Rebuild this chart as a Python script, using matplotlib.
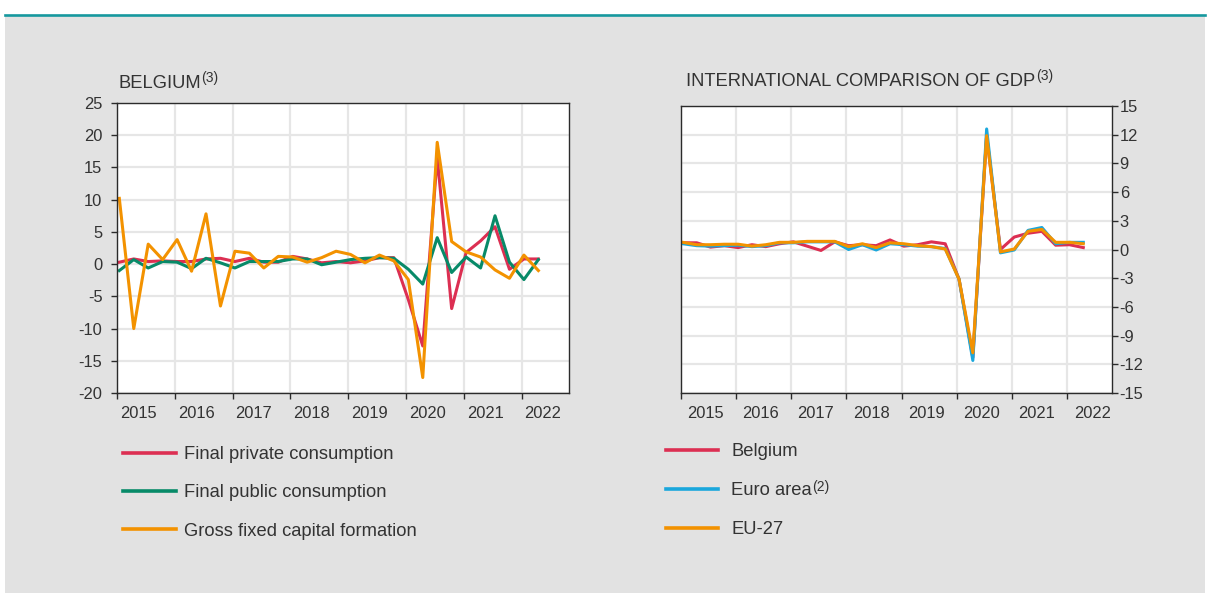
import matplotlib.pyplot as plt
import numpy as np
from matplotlib.patches import Rectangle
from matplotlib.lines import Line2D

plt.rcParams['font.family'] = ['Liberation Sans', 'DejaVu Sans']
plt.rcParams['axes.unicode_minus'] = False

# quarterly data, 2015 Q1 -> 2022 Q2
years = [2015, 2016, 2017, 2018, 2019, 2020, 2021, 2022]

# Belgium, components of GDP (q-o-q % change)
private_cons = [0.3, 0.8, 0.4, 0.5, 0.4, 0.4, 0.8, 0.9, 0.4, 0.9, 0.3, 0.3, 1.2, 0.8, 0.2,
                0.4, 0.2, 0.5, 1.0, 1.0, -5.5, -12.7, 16.6, -6.9, 1.8, 3.6, 5.8, -0.8, 0.8, 0.8]
public_cons = [-1.0, 0.7, -0.6, 0.4, 0.3, -0.7, 0.9, 0.2, -0.6, 0.4, 0.4, 0.4, 0.8, 0.8, -0.1,
               0.3, 0.7, 0.9, 1.0, 0.9, -0.8, -3.1, 4.1, -1.3, 1.1, -0.6, 7.5, 0.3, -2.4, 0.7]
gfcf = [10.2, -10.0, 3.1, 0.7, 3.8, -1.1, 7.8, -6.5, 2.0, 1.7, -0.6, 1.2, 1.1, 0.3, 1.0,
        2.0, 1.5, 0.2, 1.4, 0.5, -2.4, -17.6, 18.9, 3.5, 1.9, 1.1, -0.9, -2.2, 1.4, -1.0]

# international comparison of GDP
gdp_be = [0.7, 0.7, 0.25, 0.4, 0.2, 0.5, 0.3, 0.6, 0.8, 0.35, -0.1, 0.8, 0.4, 0.5, 0.4,
          1.0, 0.35, 0.5, 0.8, 0.6, -3.1, -11.3, 11.9, 0.0, 1.3, 1.7, 1.9, 0.45, 0.5, 0.2]
gdp_ea = [0.6, 0.4, 0.35, 0.4, 0.45, 0.3, 0.4, 0.7, 0.7, 0.8, 0.8, 0.8, 0.0, 0.5, -0.05,
          0.6, 0.5, 0.35, 0.3, 0.1, -3.1, -11.6, 12.6, -0.35, -0.05, 2.0, 2.3, 0.6, 0.75, 0.75]
gdp_eu = [0.75, 0.5, 0.5, 0.55, 0.55, 0.35, 0.5, 0.75, 0.75, 0.85, 0.85, 0.85, 0.3, 0.6, 0.2,
          0.7, 0.6, 0.4, 0.3, 0.05, -3.1, -10.8, 11.9, -0.25, 0.05, 1.9, 2.1, 0.75, 0.75, 0.6]

left_ticks = list(range(-20, 26, 5))
right_ticks = list(range(-15, 16, 3))

RED = '#dc2f52'
GREEN = '#078a68'
ORANGE = '#f39200'
BLUE = '#1aa7dc'
TXT = '#333333'
GRID = '#e6e6e6'

W, H = 1208, 595
fig = plt.figure(figsize=(W / 100, H / 100), dpi=100)
fig.patch.set_facecolor('white')

# grey panel + teal rule on top
fig.add_artist(Rectangle((5 / W, 1 - 593 / H), 1200 / W, 577 / H, transform=fig.transFigure,
                         facecolor='#e2e2e2', edgecolor='none', zorder=0))
fig.add_artist(Line2D([5 / W, 1205 / W], [1 - 15 / H, 1 - 15 / H], transform=fig.transFigure,
                      color='#16989e', lw=1.9, zorder=1))

n = len(private_cons)
t = 2015.04 + 0.25 * np.arange(n)


def style_axes(ax, yticks, lab_off, right=False):
    ax.set_facecolor('white')
    for s in ax.spines.values():
        s.set_color('#2b2b2b')
        s.set_linewidth(1.0)
    ax.set_yticks(yticks)
    ax.set_yticklabels([str(v) for v in yticks])
    ax.set_ylim(yticks[0], yticks[-1])
    ax.set_xticks(years)
    ax.set_xticklabels([])
    ax.set_xticks([y + lab_off for y in years], minor=True)
    ax.set_xticklabels([str(y) for y in years], minor=True)
    ax.tick_params(axis='x', which='minor', length=0, pad=9.5, labelsize=11.9, labelcolor=TXT)
    ax.tick_params(axis='x', which='major', length=4, width=1, color='#2b2b2b', direction='out')
    ax.tick_params(axis='y', length=4, width=1, color='#2b2b2b', labelsize=11.9, labelcolor=TXT,
                   pad=6.5 if not right else 1.5)
    if right:
        ax.yaxis.tick_right()
    ax.grid(True, which='major', color=GRID, lw=1.6)
    ax.set_axisbelow(True)


# left: Belgium
ax1 = fig.add_axes([117 / W, 1 - 393 / H, 452 / W, 290 / H])
l1, = ax1.plot(t, private_cons, color=RED, lw=2.2, label='Final private consumption')
l2, = ax1.plot(t, public_cons, color=GREEN, lw=2.2, label='Final public consumption')
l3, = ax1.plot(t, gfcf, color=ORANGE, lw=2.2, label='Gross fixed capital formation')
style_axes(ax1, left_ticks, 0.37)
ax1.set_xlim(2015, 2022.82)

# right: international comparison
ax2 = fig.add_axes([680.7 / W, 1 - 393 / H, 431.3 / W, 287 / H])
r1, = ax2.plot(t, gdp_be, color=RED, lw=2.2, label='Belgium')
r2, = ax2.plot(t, gdp_ea, color=BLUE, lw=2.2, label='Euro area')
r3, = ax2.plot(t, gdp_eu, color=ORANGE, lw=2.2, label='EU-27')
style_axes(ax2, right_ticks, 0.45, right=True)
ax2.set_xlim(2015, 2022.81)

# titles
t1 = fig.text(118 / W, 1 - 88.3 / H, 'BELGIUM', fontsize=13.2, color=TXT, va='baseline')
t2 = fig.text(686 / W, 1 - 86 / H, 'INTERNATIONAL COMPARISON OF GDP', fontsize=13.2, color=TXT,
              va='baseline')

# legends
leg1 = fig.legend(handles=[l1, l2, l3], loc='upper left', bbox_to_anchor=(123 / W, 1 - 446 / H),
                  frameon=False, fontsize=13.2, handlelength=2.9, handletextpad=0.45,
                  labelspacing=1.17, borderpad=0, borderaxespad=0)
leg2 = fig.legend(handles=[r1, r2, r3], loc='upper left', bbox_to_anchor=(666 / W, 1 - 443 / H),
                  frameon=False, fontsize=13.2, handlelength=2.85, handletextpad=0.7,
                  labelspacing=1.2, borderpad=0, borderaxespad=0)
for leg in (leg1, leg2):
    for txt in leg.get_texts():
        txt.set_color(TXT)
    for h in leg.legend_handles:
        h.set_linewidth(2.6)

# superscript notes, placed after layout is known
fig.canvas.draw()
renderer = fig.canvas.get_renderer()


def add_sup(txt, note, raise_px):
    bb = txt.get_window_extent(renderer)
    # matplotlib pads the text box below the baseline by the descent of "lp"
    _, _, descent = renderer.get_text_width_height_descent(
        'lp', txt.get_fontproperties(), ismath=False)
    base = bb.y0 + descent
    fig.text((bb.x1 + 0.5) / W, (base + raise_px) / H, note, fontsize=10, color=TXT,
             va='baseline', ha='left')


add_sup(t1, '(3)', 6)
add_sup(t2, '(3)', 6)
add_sup(leg2.get_texts()[1], '(2)', 4.5)

fig.savefig('out.png', dpi=100, facecolor=fig.get_facecolor())
